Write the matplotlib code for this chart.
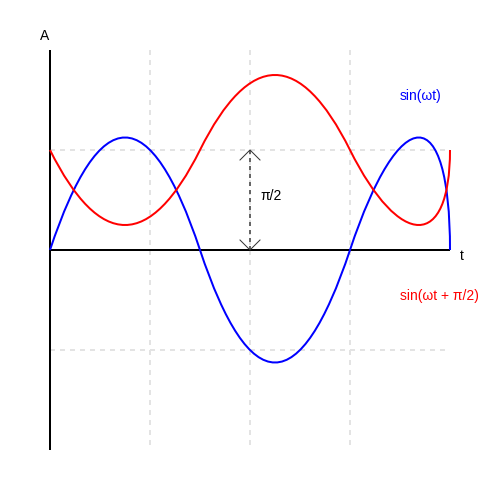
"""
Two phase-shifted sine waves, sin(wt) and sin(wt + pi/2), drawn as smooth curves.
"""

import matplotlib
matplotlib.use("Agg")
import matplotlib.pyplot as plt
from matplotlib.path import Path
from matplotlib.patches import PathPatch

plt.rcParams['font.family'] = ['Liberation Sans', 'DejaVu Sans']

# Curve anchor / control points (t, A) for cubic Bezier segments
blue_pts = [(0, 0), (0.5, 1.5), (1, 1.5), (1.5, 0),
            (2, -1.5), (2.5, -1.5), (3, 0),
            (3.5, 1.5), (4, 1.5), (4, 0)]
red_pts = [(0, 1), (0.5, 0), (1, 0), (1.5, 1),
           (2, 2), (2.5, 2), (3, 1),
           (3.5, 0), (4, 0), (4, 1)]

grid_t = [1, 2, 3]
grid_a = [1, -1]
t_max = 4
a_max = 2
phase_shift = 1  # height of the pi/2 marker (in A units)

labels = {
    "blue": "sin(ωt)",
    "red": "sin(ωt + π/2)",
    "shift": "π/2",
}


def bezier_path(pts):
    codes = [Path.MOVETO] + [Path.CURVE4] * (len(pts) - 1)
    return Path(pts, codes)


fig = plt.figure(figsize=(5, 5), dpi=100)
ax = fig.add_axes([0, 0, 1, 1])
ax.set_xlim(-0.5, 4.5)
ax.set_ylim(-2.5, 2.5)
ax.axis('off')

# light dashed grid (drawn top-down / left-right so dashes start at the edge)
for t in grid_t:
    ax.plot([t, t], [a_max, -a_max], color='#e3e3e3', lw=1.44,
            linestyle=(0, (2.5, 2.5)), zorder=1)
for a in grid_a:
    ax.plot([0, t_max], [a, a], color='#e3e3e3', lw=1.44,
            linestyle=(0, (2.5, 2.5)), zorder=1)

# axes
ax.plot([0, 0], [-a_max, a_max], color='black', lw=1.44, zorder=3,
        solid_capstyle='butt')
ax.plot([0, t_max], [0, 0], color='black', lw=1.44, zorder=3,
        solid_capstyle='butt')

# the two waves
ax.add_patch(PathPatch(bezier_path(blue_pts), facecolor='none',
                       edgecolor='#0000ff', lw=1.44, zorder=4))
ax.add_patch(PathPatch(bezier_path(red_pts), facecolor='none',
                       edgecolor='#ff0000', lw=1.44, zorder=4))

# phase shift marker
ax.plot([2, 2], [0, phase_shift], color='#666666', lw=1.44,
        linestyle=(0, (2, 2)), zorder=2)
ax.plot([1.9, 2, 2.1], [phase_shift - 0.1, phase_shift, phase_shift - 0.1],
        color='#333333', lw=0.72, zorder=5)
ax.plot([1.9, 2, 2.1], [0.1, 0, 0.1], color='#333333', lw=0.72, zorder=5)

# text
ax.text(-0.1, 2.1, "A", fontsize=10, va='baseline', ha='left')
ax.text(4.1, -0.1, "t", fontsize=10, va='baseline', ha='left')
ax.text(2.1, 0.5, labels["shift"], fontsize=10, va='baseline', ha='left')
ax.text(3.5, 1.5, labels["blue"], fontsize=10, color='#0000ff',
        va='baseline', ha='left')
ax.text(3.5, -0.5, labels["red"], fontsize=10, color='#ff0000',
        va='baseline', ha='left')

fig.savefig("out.png", dpi=100)
